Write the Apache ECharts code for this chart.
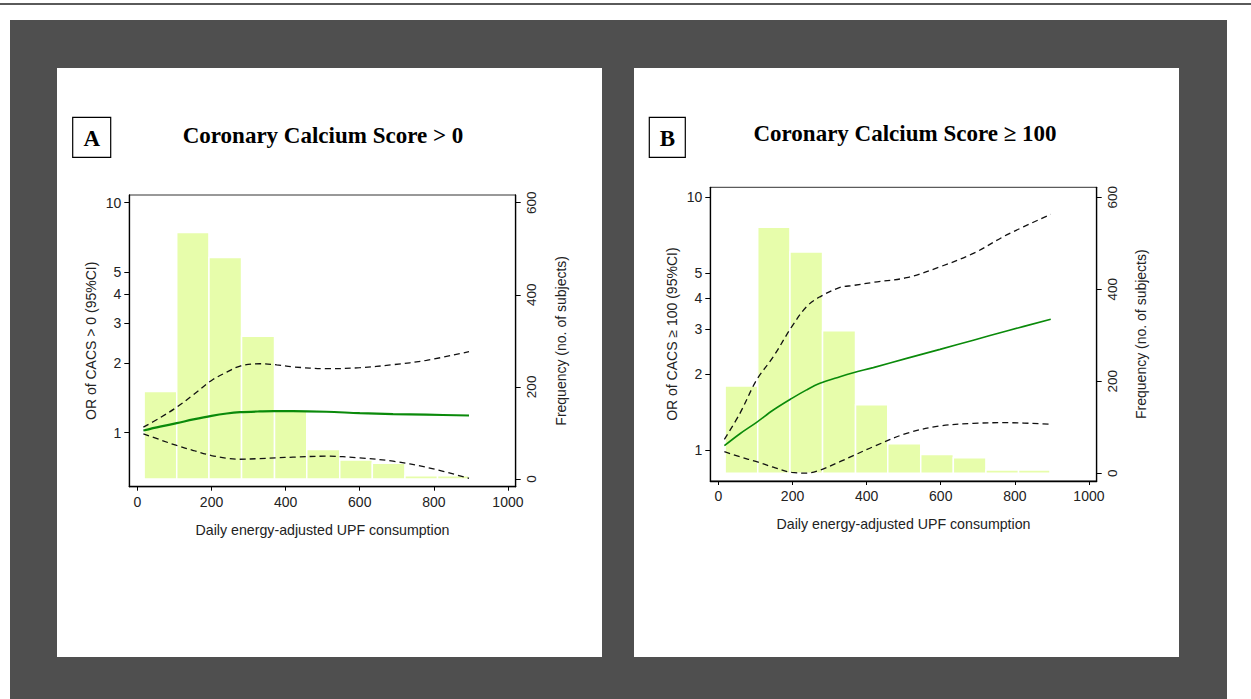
<!DOCTYPE html>
<html>
<head>
<meta charset="utf-8">
<script src="https://cdn.jsdelivr.net/npm/echarts@6/dist/echarts.min.js"></script>
<style>
  html, body { margin: 0; padding: 0; background: #fff; width: 1251px; height: 699px; overflow: hidden; }
  #topline { position: absolute; left: 0; top: 3px; width: 1251px; height: 2px; background: #5a5a5a; }
  #dark { position: absolute; left: 10px; top: 20px; width: 1217px; height: 679px; background: #4f4f4f; }
  .panel { position: absolute; top: 68px; width: 545px; height: 589px; background: #fff; }
  #chart { position: absolute; left: 0; top: 0; width: 1251px; height: 699px; }
</style>
</head>
<body>
<div id="topline"></div>
<div id="dark"></div>
<div class="panel" style="left:57px"></div>
<div class="panel" style="left:634px"></div>
<div id="chart"></div>
<script>
// ---- data ----
const binEdges = [18, 106, 193, 281, 370, 457, 546, 634, 722, 810, 895];
const binCounts = [190, 535, 481, 310, 149, 64, 41, 34, 7, 7];

const xTicks = [0, 200, 400, 600, 800, 1000];
const orTicks = [1, 2, 3, 4, 5, 10];
const freqTicks = [0, 200, 400, 600];

const xA = [16, 61, 106, 151, 200, 241, 277, 330, 376, 420, 510, 600, 690, 780, 895];
const orA = [1.02, 1.06, 1.098, 1.14, 1.182, 1.21, 1.226, 1.235, 1.238, 1.239, 1.231, 1.214, 1.202, 1.195, 1.186];
const upperA = [1.055, 1.159, 1.289, 1.46, 1.685, 1.83, 1.946, 1.992, 1.97, 1.93, 1.895, 1.914, 1.973, 2.06, 2.249];
const lowerA = [0.987, 0.93, 0.878, 0.835, 0.794, 0.773, 0.765, 0.770, 0.776, 0.781, 0.789, 0.775, 0.750, 0.706, 0.632];

const xB = [16, 58, 103, 148, 198, 238, 274, 328, 364, 418, 508, 598, 688, 778, 897];
const orB = [1.04, 1.16, 1.287, 1.44, 1.601, 1.73, 1.836, 1.951, 2.023, 2.119, 2.305, 2.502, 2.72, 2.96, 3.29];
const upperB = [1.102, 1.397, 1.893, 2.339, 3.077, 3.695, 4.04, 4.40, 4.48, 4.61, 4.81, 5.31, 6.00, 7.10, 8.57];
const lowerB = [0.985, 0.94, 0.899, 0.855, 0.815, 0.81, 0.833, 0.899, 0.95, 1.031, 1.164, 1.245, 1.275, 1.283, 1.264];

const titleA = 'Coronary Calcium Score > 0';
const titleB = 'Coronary Calcium Score \u2265 100';
const yNameA = 'OR of CACS > 0 (95%CI)';
const yNameB = 'OR of CACS \u2265 100 (95%CI)';
const y2Name = 'Frequency (no. of subjects)';
const xName = 'Daily energy-adjusted UPF consumption';

// ---- build ----
const SANS = '"Liberation Sans", Arial, sans-serif';
const SERIF = '"Liberation Serif", "Times New Roman", serif';
const pair = (xs, ys) => xs.map((x, i) => [x, ys[i]]);
const histData = binCounts.map((c, i) => [binEdges[i], binEdges[i + 1], c]);
const plain = v => String(v);

function xAxisCfg(gi) {
  return {
    gridIndex: gi, type: 'value', min: -22, max: 1021,
    axisLine: { show: true, onZero: false, lineStyle: { color: '#000', width: 1.3 } },
    axisTick: { show: true, length: 4, customValues: xTicks, lineStyle: { color: '#000' } },
    axisLabel: { customValues: xTicks, formatter: plain, fontSize: 14, color: '#222', margin: 8, fontFamily: SANS },
    splitLine: { show: false },
    name: xName, nameLocation: 'middle', nameGap: 36,
    nameTextStyle: { fontSize: 14.2, color: '#222', fontFamily: SANS }
  };
}
function logAxisCfg(gi, min, max, name, gap) {
  return {
    gridIndex: gi, type: 'log', logBase: 10, min: min, max: max, position: 'left',
    axisLine: { show: true, onZero: false, lineStyle: { color: '#000', width: 1.3 } },
    axisTick: { show: true, length: 5, customValues: orTicks, lineStyle: { color: '#000' } },
    axisLabel: { customValues: orTicks, formatter: plain, fontSize: 14, color: '#222', margin: 8, fontFamily: SANS },
    splitLine: { show: false }, minorTick: { show: false },
    name: name, nameLocation: 'middle', nameRotate: 90, nameGap: gap,
    nameTextStyle: { fontSize: 14, color: '#222', fontFamily: SANS }
  };
}
function freqAxisCfg(gi, min, max, gap) {
  return {
    gridIndex: gi, type: 'value', min: min, max: max, position: 'right',
    axisLine: { show: true, onZero: false, lineStyle: { color: '#000', width: 1.3 } },
    axisTick: { show: true, length: 5, customValues: freqTicks, lineStyle: { color: '#000' } },
    axisLabel: { customValues: freqTicks, formatter: plain, fontSize: 13.5, color: '#222', margin: 9, rotate: 90, fontFamily: SANS },
    splitLine: { show: false },
    name: y2Name, nameLocation: 'middle', nameRotate: 90, nameGap: gap,
    nameTextStyle: { fontSize: 14, color: '#222', fontFamily: SANS }
  };
}
function histSeries(xi, yi) {
  return {
    type: 'custom', xAxisIndex: xi, yAxisIndex: yi, data: histData, z: 1,
    encode: { x: [0, 1], y: 2 },
    renderItem: function (params, api) {
      const p0 = api.coord([api.value(0), api.value(2)]);
      const p1 = api.coord([api.value(1), 0]);
      return {
        type: 'rect',
        shape: { x: p0[0], y: p0[1], width: p1[0] - p0[0], height: p1[1] - p0[1] },
        style: { fill: '#e7fdab', stroke: '#ffffff', lineWidth: 1.5 }
      };
    }
  };
}
function lineSeries(xi, yi, data, kind, w) {
  const s = { type: 'line', xAxisIndex: xi, yAxisIndex: yi, data: data, smooth: 0.35,
    showSymbol: false, symbol: 'none', z: 3, silent: true };
  if (kind === 'or') s.lineStyle = { color: '#0a8a0a', width: w };
  else s.lineStyle = { color: '#111', width: 1.3, type: [6, 4] };
  return s;
}
function letterBox(x, y, w, h, letter) {
  return [
    { type: 'rect', shape: { x: x, y: y, width: w, height: h }, style: { fill: '#fff', stroke: '#000', lineWidth: 1.2 } },
    { type: 'text', x: x + w / 2, y: y + h / 2 + 1, style: { text: letter, font: 'bold 23px ' + SERIF, fill: '#000', align: 'center', verticalAlign: 'middle' } }
  ];
}

const chart = echarts.init(document.getElementById('chart'), null, { renderer: 'svg' });
chart.setOption({
  backgroundColor: 'transparent',
  animation: false,
  graphic: [
    ...letterBox(72.7, 117.3, 38, 40, 'A'),
    ...letterBox(649.3, 117.3, 36, 40, 'B'),
    { type: 'text', x: 323, y: 135.2, style: { text: titleA, font: 'bold 23px ' + SERIF, fill: '#000', align: 'center', verticalAlign: 'middle' } },
    { type: 'text', x: 905, y: 133.9, style: { text: titleB, font: 'bold 23px ' + SERIF, fill: '#000', align: 'center', verticalAlign: 'middle' } }
  ],
  grid: [
    { left: 129.3, top: 195, width: 386.4, height: 291.7, show: true, borderColor: '#333', borderWidth: 1, backgroundColor: 'transparent' },
    { left: 710.3, top: 187.3, width: 386.4, height: 293.7, show: true, borderColor: '#333', borderWidth: 1, backgroundColor: 'transparent' }
  ],
  xAxis: [xAxisCfg(0), xAxisCfg(1)],
  yAxis: [
    logAxisCfg(0, 0.581, 10.8, yNameA, 31),
    freqAxisCfg(0, -16.8, 616.7, 38),
    logAxisCfg(1, 0.754, 10.96, yNameB, 31),
    freqAxisCfg(1, -16.7, 621.7, 37)
  ],
  series: [
    histSeries(0, 1),
    lineSeries(0, 0, pair(xA, upperA), 'ci'),
    lineSeries(0, 0, pair(xA, lowerA), 'ci'),
    lineSeries(0, 0, pair(xA, orA), 'or', 2.2),
    histSeries(1, 3),
    lineSeries(1, 2, pair(xB, upperB), 'ci'),
    lineSeries(1, 2, pair(xB, lowerB), 'ci'),
    lineSeries(1, 2, pair(xB, orB), 'or', 1.6)
  ]
});
</script>
</body>
</html>
